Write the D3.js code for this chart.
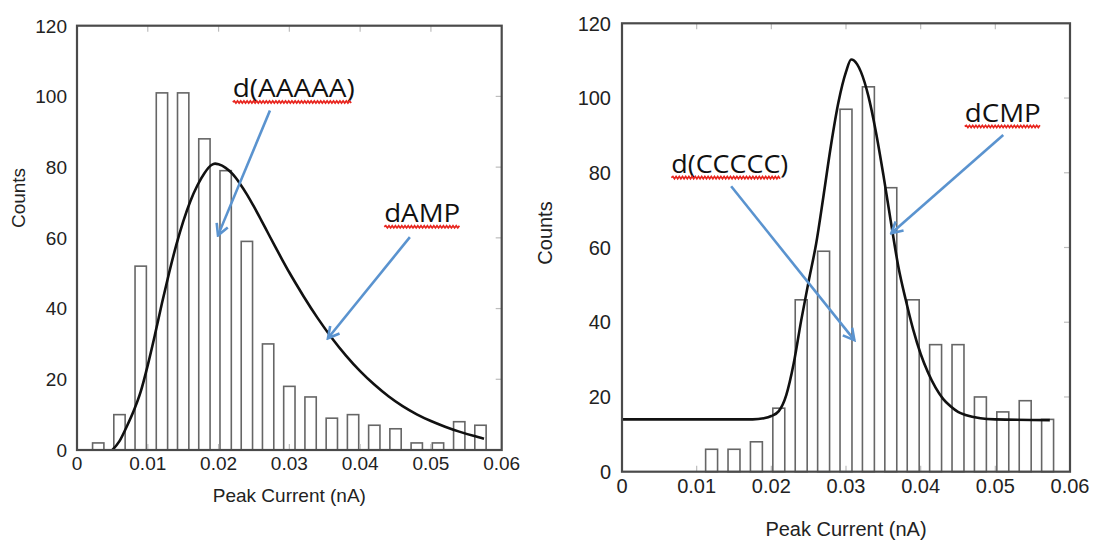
<!DOCTYPE html>
<html><head><meta charset="utf-8">
<script src="https://cdn.jsdelivr.net/npm/d3@7"></script>
<style>
html,body{margin:0;padding:0;background:#fff;}
svg{display:block;}
</style></head>
<body>
<svg id="chart" width="1096" height="543"></svg>
<script>
// ---------- DATA ----------
const binCenters = [0.003,0.006,0.009,0.012,0.015,0.018,0.021,0.024,0.027,0.030,0.033,0.036,0.039,0.042,0.045,0.048,0.051,0.054,0.057];
const countsA = [2,10,52,101,101,88,79,59,30,18,15,9,10,7,6,2,2,8,7];
const countsC = [0,0,0,6,6,8,17,46,59,97,103,76,46,34,34,20,16,19,14];

const fitAx = [0.0050,0.0060,0.0070,0.0080,0.0090,0.0100,0.0110,0.0120,0.0130,0.0140,0.0150,0.0160,0.0170,0.0180,0.0190,0.0195,0.0200,0.0210,0.0220,0.0230,0.0240,0.0250,0.0260,0.0270,0.0280,0.0290,0.0300,0.0310,0.0320,0.0340,0.0360,0.0380,0.0400,0.0420,0.0440,0.0460,0.0480,0.0500,0.0520,0.0540,0.0560,0.0575];
const fitAy = [0,2.5,6.5,11,16.5,24,32.5,41.5,50,57.8,64.6,70.3,74.8,78.3,80.6,81,80.8,79.8,78,75.4,72.3,68.8,65.1,61.3,57.5,53.8,50.2,46.8,43.5,37.3,31.7,26.7,22.3,18.5,15.2,12.4,10.1,8.2,6.6,5.2,4.0,3.2];

const fitCx = [0,0.0100,0.0175,0.0190,0.0200,0.0210,0.0220,0.0230,0.0240,0.0250,0.0260,0.0270,0.0280,0.0290,0.0300,0.0307,0.0315,0.0320,0.0330,0.0340,0.0350,0.0360,0.0370,0.0380,0.0390,0.0400,0.0410,0.0420,0.0430,0.0440,0.0450,0.0460,0.0480,0.0500,0.0573];
const fitCy = [14,14,14,14.3,14.9,16.2,20.5,29,40.5,51,61,74,87.5,99,107,110.3,109,107,100.5,91,79.5,67,55,46,38,31.5,26.5,22.5,19.5,17.5,16,15.2,14.3,14,13.8];

const xTicks = [0,0.01,0.02,0.03,0.04,0.05,0.06];
const xTickLabels = ["0","0.01","0.02","0.03","0.04","0.05","0.06"];
const yTicks = [0,20,40,60,80,100,120];
const yTickLabels = ["0","20","40","60","80","100","120"];

const xTitle = "Peak Current (nA)";
const yTitle = "Counts";

// annotations in data coordinates
const annA = [
  {text:"d(AAAAA)", x:0.0220, y:99.7, len:122, ux:[0.0220,0.0388]},
  {text:"dAMP", x:0.0434, y:64.4, len:76, ux:[0.0434,0.0541]}
];
const arrowsA = [
  {x1:0.02726,y1:96.0,x2:0.01992,y2:60.7},
  {x1:0.04703,y1:60.2,x2:0.03545,y2:31.6}
];
const annC = [
  {text:"d(CCCCC)", x:0.0066, y:79.9, len:117, ux:[0.0066,0.0213]},
  {text:"dCMP", x:0.0459, y:93.6, len:76, ux:[0.0459,0.0560]}
];
const arrowsC = [
  {x1:0.01462,y1:76.4,x2:0.03112,y2:35.2},
  {x1:0.05106,y1:90.1,x2:0.03607,y2:63.8}
];

// ---------- DRAW ----------
const svg = d3.select("#chart");
const BLUE = "#5a93cf";
const defs = svg.append("defs");
defs.append("marker").attr("id","arr").attr("markerUnits","userSpaceOnUse")
  .attr("viewBox","-14 -8 16 16").attr("refX",0).attr("refY",0)
  .attr("markerWidth",16).attr("markerHeight",16).attr("orient","auto")
  .append("path").attr("d","M-11,-6 L0,0 L-11,6").attr("fill","none")
  .attr("stroke",BLUE).attr("stroke-width",2.6);

function panel(opt){
  const g = svg.append("g");
  const x = d3.scaleLinear().domain([0,0.06]).range(opt.xr);
  const y = d3.scaleLinear().domain([0,120]).range(opt.yr);
  const fs = opt.fs;

  // bars
  g.selectAll("rect.bar").data(opt.counts).enter().append("rect")
    .attr("x",(d,i)=>x(binCenters[i]-opt.bw/2))
    .attr("width",(d,i)=>x(binCenters[i]+opt.bw/2)-x(binCenters[i]-opt.bw/2))
    .attr("y",d=>y(d)).attr("height",d=>y(0)-y(d))
    .attr("fill","#fff").attr("stroke","#666").attr("stroke-width",1.6);

  // inner ticks
  const tg = g.append("g").attr("stroke","#bdbdbd").attr("stroke-width",1.2);
  xTicks.slice(1,-1).forEach(t=>{
    tg.append("line").attr("x1",x(t)).attr("x2",x(t)).attr("y1",y(120)).attr("y2",y(120)+6);
    tg.append("line").attr("x1",x(t)).attr("x2",x(t)).attr("y1",y(0)).attr("y2",y(0)-6);
  });
  yTicks.slice(1,-1).forEach(t=>{
    tg.append("line").attr("x1",x(0.06)).attr("x2",x(0.06)-6).attr("y1",y(t)).attr("y2",y(t));
  });

  // fit curve
  const line = d3.line().x(d=>x(d[0])).y(d=>y(d[1])).curve(d3.curveMonotoneX);
  g.append("path").datum(opt.fx.map((v,i)=>[v,opt.fy[i]]))
    .attr("d",line).attr("fill","none").attr("stroke","#111").attr("stroke-width",2.6);

  // frame
  g.append("rect").attr("x",x(0)).attr("y",y(120)).attr("width",x(0.06)-x(0)).attr("height",y(0)-y(120))
    .attr("fill","none").attr("stroke","#4a4a4a").attr("stroke-width",2.2);

  // tick labels
  const tf = "'Liberation Sans', Arial, sans-serif";
  g.selectAll("text.xt").data(xTicks).enter().append("text")
    .attr("x",d=>x(d)).attr("y",y(0)+opt.xtOff).attr("text-anchor","middle")
    .attr("font-family",tf).attr("font-size",fs).attr("fill","#222")
    .text((d,i)=>xTickLabels[i]);
  g.selectAll("text.yt").data(yTicks).enter().append("text")
    .attr("x",x(0)-opt.ytOff).attr("y",d=>y(d)+fs*0.36).attr("text-anchor","end")
    .attr("font-family",tf).attr("font-size",fs).attr("fill","#222")
    .text((d,i)=>yTickLabels[i]);
  // titles
  g.append("text").attr("x",(opt.xr[0]+opt.xr[1])/2).attr("y",opt.xTitleY).attr("text-anchor","middle")
    .attr("font-family",tf).attr("font-size",fs).attr("fill","#222").text(xTitle);
  g.append("text").attr("transform",`translate(${opt.yTitlePos[0]},${opt.yTitlePos[1]}) rotate(-90)`)
    .attr("text-anchor","middle").attr("font-family",tf).attr("font-size",fs).attr("fill","#222").text(yTitle);

  // annotations
  opt.ann.forEach(a=>{
    g.append("text").attr("x",x(a.x)).attr("y",y(a.y))
      .attr("font-family","'Open Sans', 'Noto Sans', sans-serif").attr("font-size",26).attr("fill","#111")
      .attr("textLength",a.len).attr("lengthAdjust","spacingAndGlyphs").text(a.text);
    // red wavy spell-check underline
    const x0 = x(a.ux[0]), x1 = x(a.ux[1]), yy = y(a.y)+4.5;
    let d = `M${x0},${yy}`; let k=0;
    for(let xx=x0+1.6; xx<=x1; xx+=1.6){ k++; d += ` L${xx},${yy+(k%2? -1.1:1.1)}`; }
    g.append("path").attr("d",d).attr("fill","none").attr("stroke","#e8261f").attr("stroke-width",1.7);
  });
  opt.arrows.forEach(a=>{
    g.append("line").attr("x1",x(a.x1)).attr("y1",y(a.y1)).attr("x2",x(a.x2)).attr("y2",y(a.y2))
      .attr("stroke",BLUE).attr("stroke-width",2.6).attr("marker-end","url(#arr)");
  });
}

panel({xr:[77,501.7], yr:[450,25.7], counts:countsA, bw:0.0016, fx:fitAx, fy:fitAy, fs:19,
  xtOff:20, ytOff:10, xTitleY:502, yTitlePos:[25,198], ann:annA, arrows:arrowsA});
panel({xr:[622,1070], yr:[471.7,23.3], counts:countsC, bw:0.0016, fx:fitCx, fy:fitCy, fs:20,
  xtOff:21, ytOff:11, xTitleY:536, yTitlePos:[552,233], ann:annC, arrows:arrowsC});
</script>
</body></html>
